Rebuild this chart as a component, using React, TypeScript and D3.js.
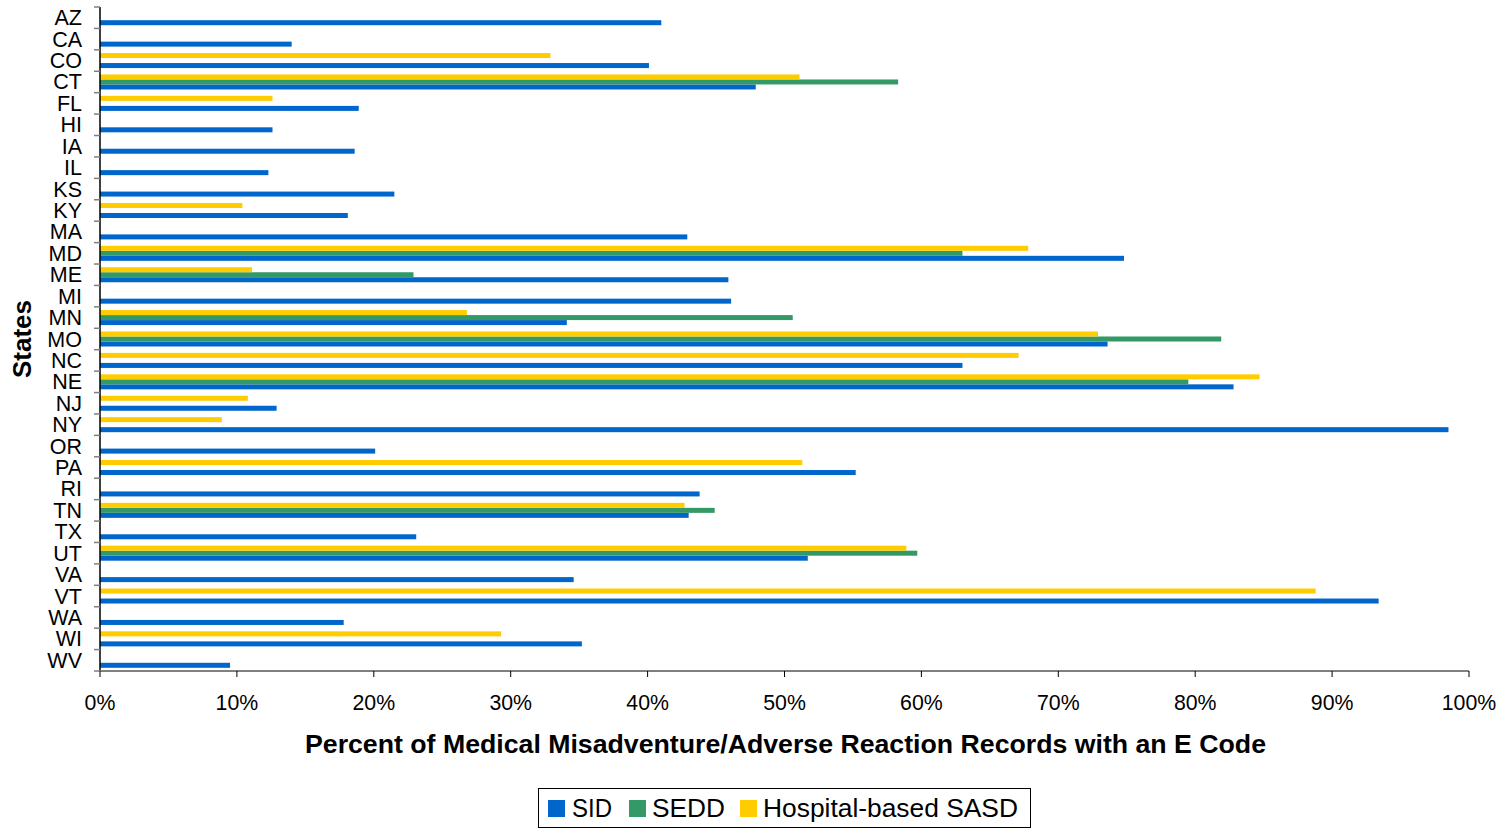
import React from "react";
import * as d3 from "d3";

const states = ["AZ","CA","CO","CT","FL","HI","IA","IL","KS","KY","MA","MD","ME","MI","MN","MO","NC","NE","NJ","NY","OR","PA","RI","TN","TX","UT","VA","VT","WA","WI","WV"];
const sid = [41.0,14.0,40.1,47.9,18.9,12.6,18.6,12.3,21.5,18.1,42.9,74.8,45.9,46.1,34.1,73.6,63.0,82.8,12.9,98.5,20.1,55.2,43.8,43.0,23.1,51.7,34.6,93.4,17.8,35.2,9.5];
const sedd = [null,null,null,58.3,null,null,null,null,null,null,null,63.0,22.9,null,50.6,81.9,null,79.5,null,null,null,null,null,44.9,null,59.7,null,null,null,null,null];
const sasd = [null,null,32.9,51.1,12.6,null,null,null,null,10.4,null,67.8,11.1,null,26.8,72.9,67.1,84.7,10.8,8.9,null,51.3,null,42.7,null,58.9,null,88.8,null,29.3,null];
const seriesNames = ["SID","SEDD","Hospital-based SASD"];
const seriesColors = ["#0066CC","#339966","#FFCC00"];
const xTicks = [0,10,20,30,40,50,60,70,80,90,100];

const W = 1506, H = 830;
const left = 100, right = 1469, top = 7, bottom = 671;
const font = "Liberation Sans, Arial, sans-serif";

export default function App() {
  const x = d3.scaleLinear().domain([0, 100]).range([left, right]);
  const y = d3.scaleBand<string>().domain(states).range([top, bottom]).padding(0);
  const inner = d3.scaleBand<string>().domain(["sasd","sedd","sid"]).range([0, y.bandwidth()]).paddingInner(0).paddingOuter(0.64);
  const series: { key: string; vals: (number | null)[]; color: string }[] = [
    { key: "sid", vals: sid, color: seriesColors[0] },
    { key: "sedd", vals: sedd, color: seriesColors[1] },
    { key: "sasd", vals: sasd, color: seriesColors[2] },
  ];
  const legendItems = [
    { sq: 548, tx: 572, w: 40 },
    { sq: 629, tx: 652, w: 73 },
    { sq: 740, tx: 763, w: 255 },
  ];
  return (
    <svg width={W} height={H} style={{ position: "absolute", left: 0, top: 0, background: "#fff" }} fontFamily={font}>
      {series.map((s) =>
        s.vals.map((v, i) =>
          v == null ? null : (
            <rect key={s.key + i} x={x(0)} y={(y(states[i]) as number) + (inner(s.key) as number)} width={x(v) - x(0)} height={inner.bandwidth()} fill={s.color} />
          )
        )
      )}
      {/* y axis */}
      <line x1={left} x2={left} y1={top} y2={bottom} stroke="#000" strokeWidth={1.5} />
      {states.map((s, i) => (
        <line key={"yt" + i} x1={left - 6} x2={left} y1={y(s) as number} y2={y(s) as number} stroke="#808080" strokeWidth={1.5} />
      ))}
      <line x1={left - 6} x2={left} y1={bottom} y2={bottom} stroke="#808080" strokeWidth={1.5} />
      {states.map((s) => (
        <text key={"yl" + s} x={82} y={(y(s) as number) + y.bandwidth() / 2 + 7.5} textAnchor="end" fontSize={21.5} fill="#000">{s}</text>
      ))}
      {/* x axis */}
      <line x1={left} x2={right} y1={bottom} y2={bottom} stroke="#808080" strokeWidth={2} />
      {xTicks.map((t) => (
        <line key={"xt" + t} x1={x(t)} x2={x(t)} y1={bottom} y2={bottom + 6} stroke="#000" strokeWidth={1} />
      ))}
      {xTicks.map((t) => (
        <text key={"xl" + t} x={x(t)} y={710} textAnchor="middle" fontSize={21.3} fill="#000">{t + "%"}</text>
      ))}
      <text x={785.5} y={753} textAnchor="middle" fontSize={25.5} fontWeight="bold" fill="#000" textLength={961} lengthAdjust="spacingAndGlyphs">Percent of Medical Misadventure/Adverse Reaction Records with an E Code</text>
      <text transform={`translate(31,${339}) rotate(-90)`} textAnchor="middle" fontSize={26} fontWeight="bold" fill="#000">States</text>
      {/* legend */}
      <rect x={538.5} y={788.5} width={492} height={39} fill="#fff" stroke="#000" strokeWidth={1} />
      {seriesNames.map((n, i) => (
        <g key={n}>
          <rect x={legendItems[i].sq} y={800} width={17} height={17} fill={seriesColors[i]} />
          <text x={legendItems[i].tx} y={817} fontSize={25.5} fill="#000" textLength={legendItems[i].w} lengthAdjust="spacingAndGlyphs">{n}</text>
        </g>
      ))}
    </svg>
  );
}
